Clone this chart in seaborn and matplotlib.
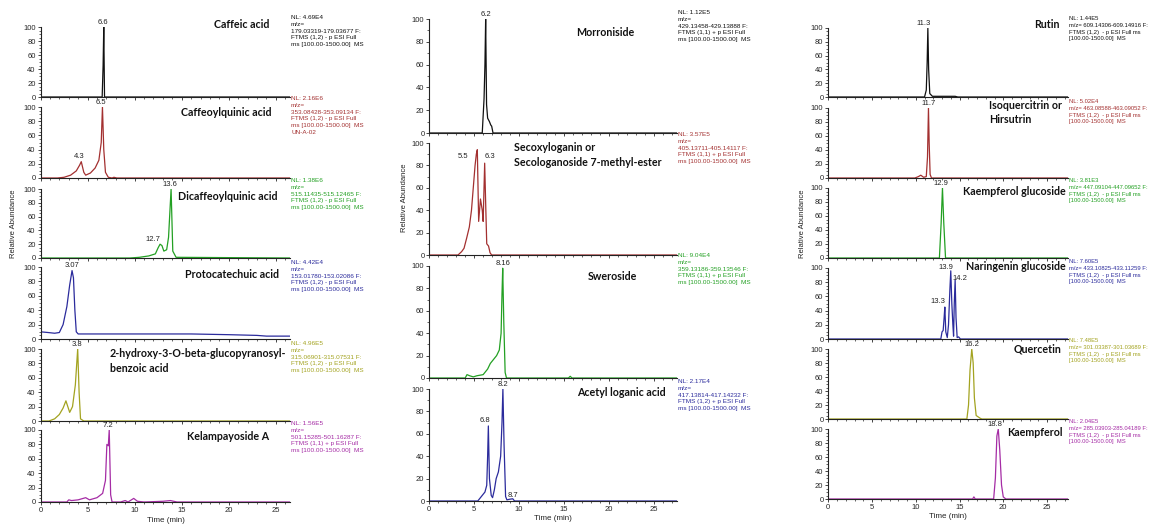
import matplotlib
matplotlib.use("Agg")
import matplotlib.pyplot as plt
from matplotlib.ticker import MultipleLocator, NullFormatter
import seaborn as sns

# ==========================================
# 1. DATA
# ==========================================
# time in min, relative abundance in %

# --- left column ---
caffeic_t = [0, 6.55, 6.65, 6.72, 6.8, 26.5]
caffeic_y = [0, 0, 45, 100, 0, 0]

cqa_t = [0, 1.8, 2.5, 3.2, 3.8, 4.15, 4.33, 4.6, 4.8, 5.3, 5.8, 6.2, 6.45, 6.58, 6.72, 6.9, 7.2, 7.6, 7.8, 7.95, 8.1, 26.5]
cqa_y = [0, 0, 1, 4, 10, 18, 23, 8, 4, 7, 14, 25, 50, 100, 40, 8, 1, 0, 1, 0.5, 0, 0]

dicqa_t = [0, 9.5, 10.5, 11.5, 12.2, 12.5, 12.7, 12.9, 13.1, 13.4, 13.6, 13.87, 14.05, 14.4, 26.5]
dicqa_y = [0, 0, 1, 3, 6, 15, 20, 18, 10, 12, 30, 100, 10, 1, 0]

proto_t = [0, 0.8, 1.5, 2.0, 2.4, 2.8, 3.1, 3.35, 3.5, 3.65, 3.8, 4.0, 10, 16, 20, 23, 24, 26.5]
proto_y = [10, 9, 8, 9, 20, 45, 75, 95, 85, 40, 10, 7, 7, 7, 6, 5, 4, 4]

hbz_t = [0, 0.9, 1.5, 2.0, 2.4, 2.7, 3.1, 3.4, 3.7, 3.95, 4.1, 4.25, 4.6, 26.5]
hbz_y = [0, 0, 3, 9, 18, 28, 12, 20, 50, 100, 40, 3, 0, 0]

kela_t = [0, 2.8, 3.0, 3.3, 4.0, 4.8, 5.2, 6.0, 6.6, 6.9, 7.05, 7.2, 7.3, 7.45, 7.6, 8.5, 9.0, 9.3, 9.9, 10.3, 11.0, 13.0, 13.8, 14.5, 26.5]
kela_y = [0, 0, 3, 2, 3, 6, 3, 6, 12, 30, 80, 78, 100, 10, 0, 0, 2, 0, 5, 1, 0, 1, 2, 0, 0]

# --- middle column ---
morr_t = [0, 5.9, 6.1, 6.2, 6.28, 6.38, 6.5, 6.7, 6.85, 6.95, 7.1, 27.6]
morr_y = [0, 0, 30, 60, 100, 25, 13, 10, 7, 6, 0, 0]

seco_t = [0, 3.2, 3.6, 3.87, 4.16, 4.46, 4.7, 4.9, 5.1, 5.24, 5.35, 5.5, 5.7, 5.9, 6.0, 6.17, 6.3, 6.4, 6.6, 6.77, 6.95, 27.6]
seco_y = [0, 0, 3, 6, 15, 25, 40, 60, 80, 90, 94, 30, 50, 40, 30, 82, 40, 10, 8, 2, 0, 0]

swero_t = [0, 4.0, 4.2, 4.5, 4.9, 5.3, 6.0, 6.5, 6.8, 7.1, 7.5, 7.8, 8.0, 8.1, 8.18, 8.3, 8.45, 8.6, 15.5, 15.7, 15.9, 27.6]
swero_y = [0, 0, 3, 2, 1, 2, 3, 8, 13, 16, 20, 25, 40, 75, 98, 50, 5, 0, 0, 1.5, 0, 0]

acet_t = [0, 5.4, 5.8, 6.2, 6.4, 6.5, 6.58, 6.7, 6.9, 7.05, 7.25, 7.45, 7.7, 7.95, 8.1, 8.2, 8.33, 8.5, 8.65, 8.9, 9.3, 9.5, 27.6]
acet_y = [0, 0, 4, 8, 14, 40, 67, 20, 5, 3, 10, 20, 26, 40, 70, 100, 50, 4, 1, 1.5, 2, 0, 0]

# --- right column ---
rutin_t = [0, 11.0, 11.2, 11.3, 11.38, 11.47, 11.6, 11.9, 12.5, 14.5, 14.8, 27.4]
rutin_y = [0, 0, 10, 50, 100, 40, 5, 1, 1, 1, 0, 0]

isoq_t = [0, 9.9, 10.3, 10.57, 10.9, 11.2, 11.34, 11.45, 11.53, 11.64, 11.8, 27.4]
isoq_y = [0, 0, 2, 4, 1, 2, 30, 100, 50, 5, 0, 0]

kglc_t = [0, 12.7, 12.9, 13.05, 13.2, 13.4, 27.4]
kglc_y = [0, 0, 50, 100, 50, 0, 0]

nglc_t = [0, 12.86, 13.0, 13.13, 13.24, 13.32, 13.43, 13.6, 13.74, 13.9, 14.0, 14.12, 14.24, 14.32, 14.4, 14.5, 14.6, 14.73, 14.9, 15.1, 27.4]
nglc_y = [0, 0, 10, 12, 30, 45, 10, 2, 20, 70, 96, 50, 20, 4, 50, 83, 30, 2, 3, 0, 0]

querc_t = [0, 15.84, 16.03, 16.2, 16.4, 16.56, 16.7, 16.9, 17.37, 17.56, 27.4]
querc_y = [0, 0, 20, 70, 100, 80, 30, 5, 1, 0, 0]

kaem_t = [0, 16.5, 16.64, 16.8, 18.9, 19.1, 19.27, 19.43, 19.6, 19.8, 20.0, 20.3, 27.4]
kaem_y = [0, 0, 3, 0, 0, 30, 90, 100, 70, 20, 3, 0, 0]

# --- compound names ---
left_names = ["Caffeic acid", "Caffeoylquinic acid", "Dicaffeoylquinic acid",
              "Protocatechuic acid", "2-hydroxy-3-O-beta-glucopyranosyl-\nbenzoic acid",
              "Kelampayoside A"]
mid_names = ["Morroniside", "Secoxyloganin or\nSecologanoside 7-methyl-ester",
             "Sweroside", "Acetyl loganic acid"]
right_names = ["Rutin", "Isoquercitrin or\nHirsutrin", "Kaempferol glucoside",
               "Naringenin glucoside", "Quercetin", "Kaempferol"]

# --- scan info blocks ---
left_info = [
    "NL: 4.69E4\nm/z=\n179.03319-179.03677 F:\nFTMS (1,2) - p ESI Full\nms [100.00-1500.00]  MS",
    "NL: 2.16E6\nm/z=\n353.08428-353.09134 F:\nFTMS (1,2) - p ESI Full\nms [100.00-1500.00]  MS\nUN-A-02",
    "NL: 1.38E6\nm/z=\n515.11435-515.12465 F:\nFTMS (1,2) - p ESI Full\nms [100.00-1500.00]  MS",
    "NL: 4.42E4\nm/z=\n153.01780-153.02086 F:\nFTMS (1,2) - p ESI Full\nms [100.00-1500.00]  MS",
    "NL: 4.96E5\nm/z=\n315.06901-315.07531 F:\nFTMS (1,2) - p ESI Full\nms [100.00-1500.00]  MS",
    "NL: 1.56E5\nm/z=\n501.15285-501.16287 F:\nFTMS (1,1) + p ESI Full\nms [100.00-1500.00]  MS",
]
mid_info = [
    "NL: 1.12E5\nm/z=\n429.13458-429.13888 F:\nFTMS (1,1) + p ESI Full\nms [100.00-1500.00]  MS",
    "NL: 3.57E5\nm/z=\n405.13711-405.14117 F:\nFTMS (1,1) + p ESI Full\nms [100.00-1500.00]  MS",
    "NL: 9.04E4\nm/z=\n359.13186-359.13546 F:\nFTMS (1,1) + p ESI Full\nms [100.00-1500.00]  MS",
    "NL: 2.17E4\nm/z=\n417.13814-417.14232 F:\nFTMS (1,2) + p ESI Full\nms [100.00-1500.00]  MS",
]
right_info = [
    "NL: 1.44E5\nm/z= 609.14306-609.14916 F:\nFTMS (1,2)  - p ESI Full ms\n[100.00-1500.00]  MS",
    "NL: 5.02E4\nm/z= 463.08588-463.09052 F:\nFTMS (1,2)  - p ESI Full ms\n[100.00-1500.00]  MS",
    "NL: 3.81E3\nm/z= 447.09104-447.09652 F:\nFTMS (1,2)  - p ESI Full ms\n[100.00-1500.00]  MS",
    "NL: 7.60E5\nm/z= 433.10825-433.11259 F:\nFTMS (1,2)  - p ESI Full ms\n[100.00-1500.00]  MS",
    "NL: 7.48E5\nm/z= 301.03387-301.03689 F:\nFTMS (1,2)  - p ESI Full ms\n[100.00-1500.00]  MS",
    "NL: 2.04E5\nm/z= 285.03903-285.04189 F:\nFTMS (1,2)  - p ESI Full ms\n[100.00-1500.00]  MS",
]

# --- retention time labels per trace ---
left_peaks = [["6.6"], ["6.5", "4.3"], ["13.6", "12.7"], ["3.07"], ["3.8"], ["7.2"]]
mid_peaks = [["6.2"], ["5.5", "6.3"], ["8.16"], ["6.8", "8.2", "8.7"]]
right_peaks = [["11.3"], ["11.7"], ["12.9"], ["13.3", "13.9", "14.2"], ["16.2"], ["18.8"]]

# ==========================================
# 2. LAYOUT
# ==========================================
W, H = 1175, 525
BLACK, RED, GREEN = "#111111", "#a33030", "#23a023"
BLUE, OLIVE, PURPLE = "#2b2b9c", "#a3a320", "#a52ca5"
six = [BLACK, RED, GREEN, BLUE, OLIVE, PURPLE]
four = [BLACK, RED, GREEN, BLUE]


def fx(x):
    return x / W


def fy(y):
    return 1 - y / H


columns = [
    dict(x0=40.5, x1=290, xmax=26.5, yminor=5,
         rows=[(27, 97), (107, 178), (189, 258), (267, 339), (349, 421), (430, 502)],
         traces=[(caffeic_t, caffeic_y), (cqa_t, cqa_y), (dicqa_t, dicqa_y),
                 (proto_t, proto_y), (hbz_t, hbz_y), (kela_t, kela_y)],
         colors=six, names=left_names, info=left_info, peaks=left_peaks,
         info_x=291, info_y=[15, 96, 178, 260, 341, 421], info_size=4.6,
         # (x, y, ha) of the compound name
         name_pos=[(242, 25, "center"), (226, 113, "center"), (228, 197, "center"),
                   (232, 274, "center"), (110, 361, "left"), (228, 437, "center")],
         # label anchors in data coords (x, y-bottom)
         peak_pos=[[(6.58, 101)], [(6.45, 101), (4.15, 26)], [(13.77, 101), (11.97, 22)],
                   [(3.35, 97)], [(3.9, 101)], [(7.18, 101)]],
         ylab=(14, 224), xlab=(166, 520)),
    dict(x0=429.3, x1=677, xmax=27.6, yminor=10,
         rows=[(19, 133), (143, 255), (266, 378), (389, 501)],
         traces=[(morr_t, morr_y), (seco_t, seco_y), (swero_t, swero_y), (acet_t, acet_y)],
         colors=four, names=mid_names, info=mid_info, peaks=mid_peaks,
         info_x=678, info_y=[10, 132, 253, 379], info_size=4.6,
         name_pos=[(605, 32, "center"), (514, 155, "left"), (612, 277, "center"),
                   (621, 393, "center")],
         peak_pos=[[(6.28, 101)], [(3.72, 85), (6.77, 85)], [(8.25, 99)],
                   [(6.2, 69), (8.18, 101), (9.37, 2)]],
         ylab=(405, 198), xlab=(553, 518)),
    dict(x0=828.3, x1=1068, xmax=27.4, yminor=5,
         rows=[(28, 97), (108, 178), (188, 258), (268, 339), (349, 419), (429, 499)],
         traces=[(rutin_t, rutin_y), (isoq_t, isoq_y), (kglc_t, kglc_y),
                 (nglc_t, nglc_y), (querc_t, querc_y), (kaem_t, kaem_y)],
         colors=six, names=right_names, info=right_info, peaks=right_peaks,
         info_x=1069, info_y=[16, 99, 178, 259, 338, 419], info_size=4.2,
         name_pos=[(1060, 24, "right"), (989, 112.5, "left"), (1066, 192, "right"),
                   (1066, 266, "right"), (1062, 349, "right"), (1063, 432, "right")],
         peak_pos=[[(10.95, 101)], [(11.5, 101)], [(12.86, 101)],
                   [(12.5, 48), (13.47, 96), (15.08, 80)], [(16.45, 101)], [(19.1, 101)]],
         ylab=(803, 224), xlab=(948, 517)),
]

# ==========================================
# 3. DRAW
# ==========================================
sns.set_style("ticks")
plt.rcParams["font.family"] = ["Liberation Sans", "DejaVu Sans"]
fig = plt.figure(figsize=(W / 100, H / 100), dpi=100)

for col in columns:
    n = len(col["rows"])
    for i, (top, bot) in enumerate(col["rows"]):
        ax = fig.add_axes([fx(col["x0"]), fy(bot), fx(col["x1"] - col["x0"]), (bot - top) / H])
        t, y = col["traces"][i]
        c = col["colors"][i]
        sns.lineplot(x=t, y=y, ax=ax, color=c, linewidth=0.9, estimator=None)
        ax.set_xlim(0, col["xmax"])
        ax.set_ylim(0, 100)
        ax.set_facecolor("none")
        sns.despine(ax=ax)
        for s in ("left", "bottom"):
            ax.spines[s].set_linewidth(0.8)
            ax.spines[s].set_color("#222222")
        ax.yaxis.set_major_locator(MultipleLocator(20))
        ax.yaxis.set_minor_locator(MultipleLocator(col["yminor"]))
        ax.xaxis.set_major_locator(MultipleLocator(5))
        ax.xaxis.set_minor_locator(MultipleLocator(1))
        ax.tick_params(which="major", length=2.5, width=0.6, labelsize=5.5, pad=1)
        ax.tick_params(which="minor", length=1.3, width=0.5)
        ax.set_xlabel("")
        ax.set_ylabel("")
        if i < n - 1:
            ax.xaxis.set_major_formatter(NullFormatter())

        for lab, (px, py) in zip(col["peaks"][i], col["peak_pos"][i]):
            ax.text(px, py, lab, ha="center", va="bottom", fontsize=5.5,
                    color="#222222", clip_on=False)

        nx, ny, ha = col["name_pos"][i]
        fig.text(fx(nx), fy(ny), col["names"][i], ha=ha, va="center",
                 fontsize=7.7, fontweight="bold", family="Lato",
                 linespacing=1.35, color="#111111")

        fig.text(fx(col["info_x"]), fy(col["info_y"][i]), col["info"][i],
                 ha="left", va="top", fontsize=col["info_size"], color=c,
                 linespacing=1.45)

    fig.text(fx(col["ylab"][0]), fy(col["ylab"][1]), "Relative Abundance",
             rotation=90, ha="center", va="center", fontsize=5.5, color="#222222")
    fig.text(fx(col["xlab"][0]), fy(col["xlab"][1]), "Time (min)",
             ha="center", va="center", fontsize=5.8, color="#222222")

fig.savefig("out.png", dpi=100, facecolor="white")
